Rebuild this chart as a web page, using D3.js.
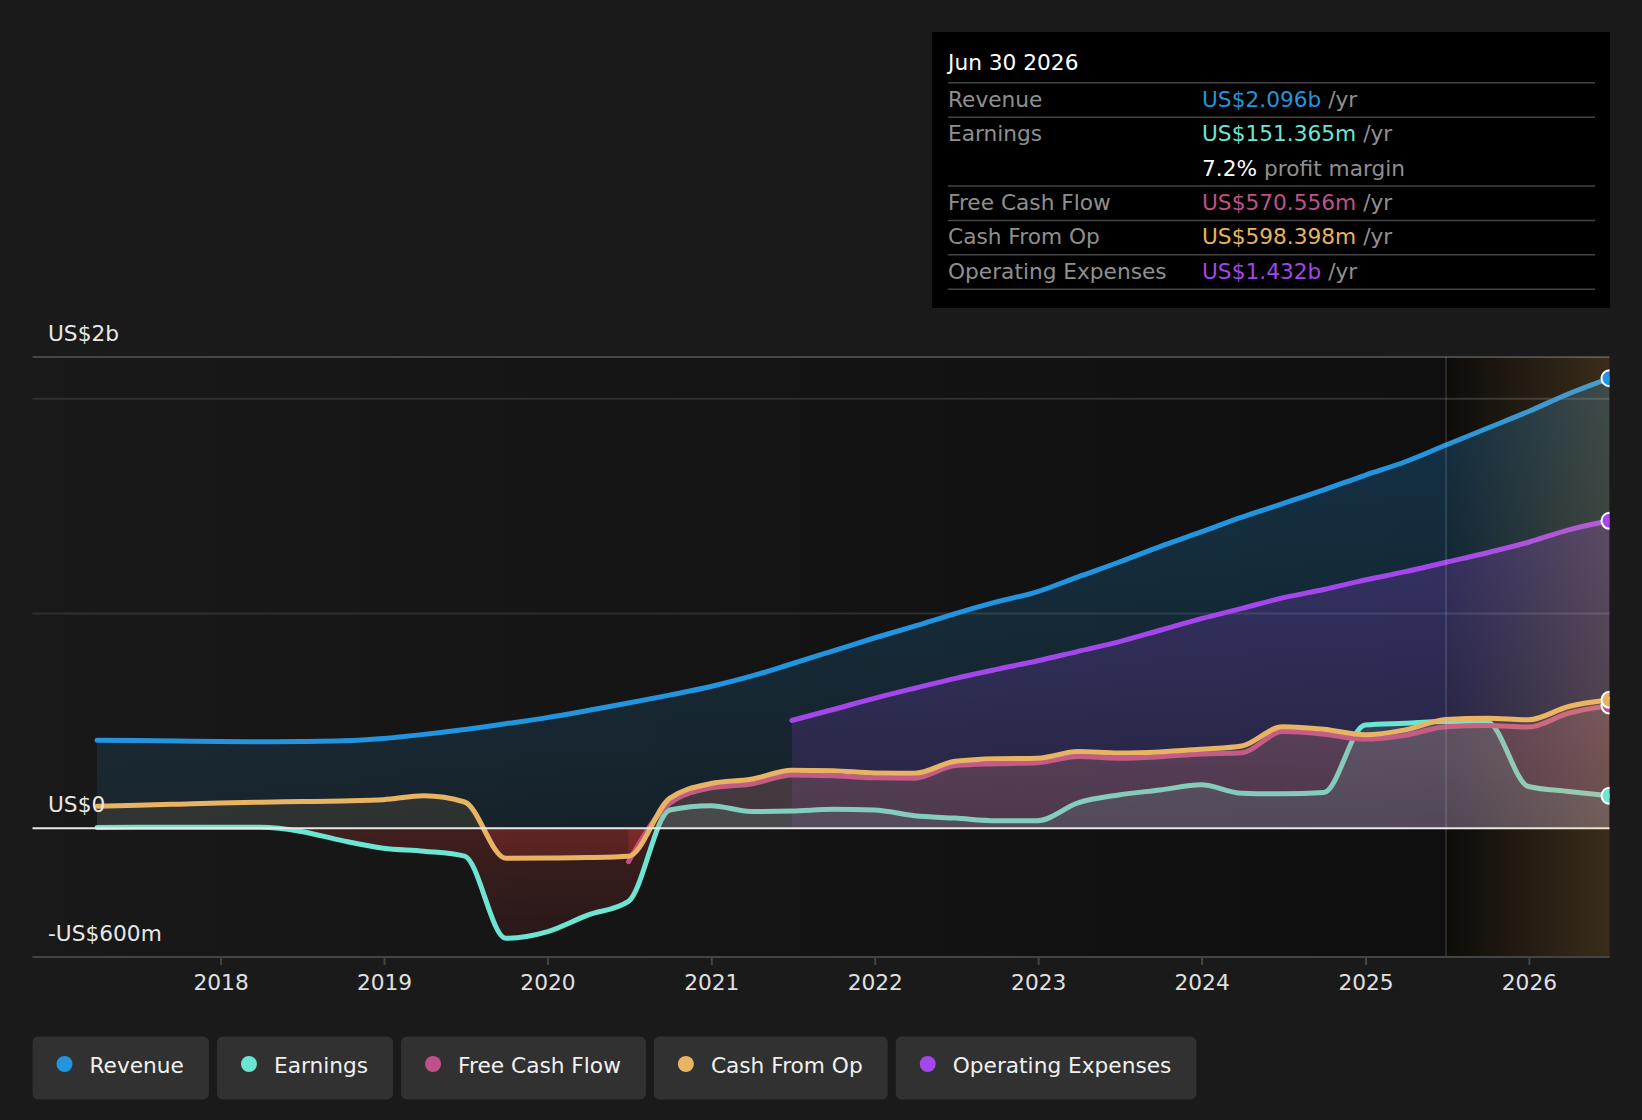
<!DOCTYPE html>
<html>
<head>
<meta charset="utf-8">
<script src="https://d3js.org/d3.v7.min.js"></script>
<style>
  body { margin: 0; background: #1a1a1a; }
  svg { display: block; font-family: "DejaVu Sans", sans-serif; }
</style>
</head>
<body>
<script>
// quarter ends, Mar 2017 .. Jun 2026 (values in US$ millions, trailing 12m)
var quarters = ["2017-03-31","2017-06-30","2017-09-30","2017-12-31","2018-03-31","2018-06-30","2018-09-30","2018-12-31",
  "2019-03-31","2019-06-30","2019-09-30","2019-12-31","2020-03-31","2020-06-30","2020-09-30","2020-12-31",
  "2021-03-31","2021-06-30","2021-09-30","2021-12-31","2022-03-31","2022-06-30","2022-09-30","2022-12-31",
  "2023-03-31","2023-06-30","2023-09-30","2023-12-31","2024-03-31","2024-06-30","2024-09-30","2024-12-31",
  "2025-03-31","2025-06-30","2025-09-30","2025-12-31","2026-03-31","2026-06-30"];

var revenue = [410, 408, 406, 404, 403, 404, 407, 418, 437, 460, 487, 515, 548, 583, 620, 660, 708, 766, 826, 886,
  941, 1000, 1054, 1102, 1171, 1239, 1312, 1380, 1449, 1512, 1576, 1644, 1707, 1785, 1863, 1941, 2024, 2096];

var earnings = [3, 4, 5, 5, 4, -15, -58, -93, -107, -130, -513, -483, -405, -341, 85, 105, 78, 80, 88, 85,
  58, 47, 35, 35, 118, 155, 178, 202, 163, 160, 166, 481, 489, 497, 495, 194, 171, 151];

var freeCashFlow = [null, null, null, null, null, null, null, null, null, null, null, null, null, -156, 116, 188, 206, 248, 244, 235,
  233, 292, 300, 305, 334, 326, 333, 346, 352, 450, 438, 415, 433, 473, 478, 471, 536, 571];

var cashFromOp = [102, 107, 112, 117, 121, 124, 127, 133, 151, 122, -140, -139, -137, -131, 139, 208, 228, 270, 268, 257,
  256, 312, 324, 326, 357, 350, 355, 368, 383, 473, 461, 435, 458, 506, 512, 505, 567, 598];

var opex = [null, null, null, null, null, null, null, null, null, null, null, null, null, null, null, null, null, 502, 553, 605,
  652, 698, 740, 780, 824, 868, 922, 976, 1024, 1073, 1112, 1156, 1195, 1239, 1283, 1332, 1390, 1432];

var forecastStart = "2025-06-30";
var gridValues = [2000, 1000];
var yLabelText = ["US$2b", "US$0", "-US$600m"];
var yMin = -600, yMax = 2195;

var tipDate = "Jun 30 2026";
var tipLabels = ["Revenue", "Earnings", "", "Free Cash Flow", "Cash From Op", "Operating Expenses"];
var tipValues = ["US$2.096b", "US$151.365m", "7.2%", "US$570.556m", "US$598.398m", "US$1.432b"];
var tipSuffix = [" /yr", " /yr", " profit margin", " /yr", " /yr", " /yr"];
var tipColors = ["#2394df", "#6ce5d3", "#ffffff", "#c0508a", "#e8b363", "#a347eb"];

var legendNames = ["Revenue", "Earnings", "Free Cash Flow", "Cash From Op", "Operating Expenses"];
var legendColors = ["#2394df", "#6ce5d3", "#c0508a", "#e8b363", "#a347eb"];

// ---------------------------------------------------------------
var W = 1642, H = 1120;
var plot = {left: 32.5, right: 1609.5, top: 357, bottom: 957};
var fs = 21.7;

var parse = d3.timeParse("%Y-%m-%d");
var dates = quarters.map(parse);

var x = d3.scaleTime().domain(d3.extent(dates)).range([97, plot.right]);
var y = d3.scaleLinear().domain([yMin, yMax]).range([plot.bottom, plot.top]);
var y0 = y(0);
var xf = x(parse(forecastStart));

var svg = d3.select("body").append("svg")
    .attr("width", W)
    .attr("height", H);

var defs = svg.append("defs");

function clip(id, x0, y0_, x1, y1) {
  defs.append("clipPath").attr("id", id).append("rect")
      .attr("x", x0).attr("y", y0_).attr("width", x1 - x0).attr("height", y1 - y0_);
}
clip("clip-plot", plot.left, plot.top, plot.right, plot.bottom);
clip("clip-pos", plot.left, plot.top, plot.right, y0);
clip("clip-neg", plot.left, y0, plot.right, plot.bottom);

function vGrad(id, color, y1, y2, o1, o2) {
  var g = defs.append("linearGradient").attr("id", id)
      .attr("gradientUnits", "userSpaceOnUse")
      .attr("x1", 0).attr("x2", 0).attr("y1", y1).attr("y2", y2);
  g.append("stop").attr("offset", 0).attr("stop-color", color).attr("stop-opacity", o1);
  g.append("stop").attr("offset", 1).attr("stop-color", color).attr("stop-opacity", o2);
}
vGrad("neg", "#e5403f", y0, plot.bottom, 0.2, 0.07);

// background darkening towards "now" and the forecast tint
var bg = defs.append("linearGradient").attr("id", "bgGrad")
    .attr("gradientUnits", "userSpaceOnUse").attr("x1", plot.left).attr("x2", xf).attr("y1", 0).attr("y2", 0);
bg.append("stop").attr("offset", 0).attr("stop-color", "#000").attr("stop-opacity", 0.05);
bg.append("stop").attr("offset", 1).attr("stop-color", "#000").attr("stop-opacity", 0.42);

var fc = defs.append("linearGradient").attr("id", "fcGrad")
    .attr("gradientUnits", "userSpaceOnUse").attr("x1", xf).attr("x2", plot.right).attr("y1", 0).attr("y2", 0);
fc.append("stop").attr("offset", 0).attr("stop-color", "#ffbe64").attr("stop-opacity", 0.02);
fc.append("stop").attr("offset", 1).attr("stop-color", "#ffbe64").attr("stop-opacity", 0.2);

svg.append("rect")
    .attr("x", plot.left).attr("y", plot.top)
    .attr("width", plot.right - plot.left).attr("height", plot.bottom - plot.top)
    .attr("fill", "url(#bgGrad)");
svg.append("rect")
    .attr("x", xf).attr("y", plot.top)
    .attr("width", plot.right - xf).attr("height", plot.bottom - plot.top)
    .attr("fill", "#000").attr("opacity", 0.42);

// grid lines
svg.selectAll(".grid")
    .data(gridValues)
  .enter().append("line")
    .attr("class", "grid")
    .attr("x1", plot.left).attr("x2", plot.right)
    .attr("y1", function(d) { return y(d); }).attr("y2", function(d) { return y(d); })
    .attr("stroke", "#2f2f2f").attr("stroke-width", 2);
svg.append("line")
    .attr("x1", plot.left).attr("x2", plot.right).attr("y1", plot.top).attr("y2", plot.top)
    .attr("stroke", "#474747").attr("stroke-width", 2);

// series
var series = [
  {key: "rev",  values: revenue,      color: "#2394df", pos: [0.28, 0.1]},
  {key: "earn", values: earnings,     color: "#6ce5d3", pos: [0.2, 0.12]},
  {key: "fcf",  values: freeCashFlow, color: "#c0508a", pos: [0.3, 0.14]},
  {key: "cfo",  values: cashFromOp,   color: "#e8b363", pos: [0.22, 0.1]},
  {key: "opex", values: opex,         color: "#a347eb", pos: [0.3, 0.12]}
];
series.forEach(function(s) {
  s.data = dates.map(function(d, i) { return {date: d, v: s.values[i]}; });
  vGrad("pos-" + s.key, s.color, plot.top, y0, s.pos[0], s.pos[1]);
});
var byKey = {};
series.forEach(function(s) { byKey[s.key] = s; });

var area = d3.area()
    .defined(function(d) { return d.v != null; })
    .x(function(d) { return x(d.date); })
    .y0(y0)
    .y1(function(d) { return y(d.v); })
    .curve(d3.curveMonotoneX);

var line = d3.line()
    .defined(function(d) { return d.v != null; })
    .x(function(d) { return x(d.date); })
    .y(function(d) { return y(d.v); })
    .curve(d3.curveMonotoneX);

var g = svg.append("g").attr("clip-path", "url(#clip-plot)");

function drawArea(s) {
  g.append("path").datum(s.data)
      .attr("clip-path", "url(#clip-pos)")
      .attr("fill", "url(#pos-" + s.key + ")")
      .attr("d", area);
  g.append("path").datum(s.data)
      .attr("clip-path", "url(#clip-neg)")
      .attr("fill", "url(#neg)")
      .attr("d", area);
}
function drawLine(s) {
  g.append("path").datum(s.data)
      .attr("fill", "none")
      .attr("stroke", s.color)
      .attr("stroke-width", 5)
      .attr("stroke-linejoin", "round")
      .attr("stroke-linecap", "round")
      .attr("d", line);
}

drawArea(byKey.rev);
drawArea(byKey.opex);
drawArea(byKey.earn);
drawLine(byKey.earn);
drawArea(byKey.fcf);
drawLine(byKey.fcf);
drawArea(byKey.cfo);
drawLine(byKey.cfo);

// zero line
svg.append("line")
    .attr("x1", plot.left).attr("x2", plot.right).attr("y1", y0).attr("y2", y0)
    .attr("stroke", "#e8e8e8").attr("stroke-width", 2);

drawLine(byKey.opex);
drawLine(byKey.rev);

// forecast region
svg.append("rect")
    .attr("x", xf).attr("y", plot.top)
    .attr("width", plot.right - xf).attr("height", plot.bottom - plot.top)
    .attr("fill", "url(#fcGrad)");
svg.append("line")
    .attr("x1", xf).attr("x2", xf).attr("y1", plot.top).attr("y2", plot.bottom)
    .attr("stroke", "#ffffff").attr("stroke-opacity", 0.12).attr("stroke-width", 2);

// end dots (cut by the plot edge)
var last = dates.length - 1;
svg.append("g").attr("clip-path", "url(#clip-plot)")
  .selectAll("circle")
    .data([byKey.earn, byKey.fcf, byKey.cfo, byKey.opex, byKey.rev])
  .enter().append("circle")
    .attr("cx", x(dates[last]))
    .attr("cy", function(s) { return y(s.values[last]); })
    .attr("r", 8)
    .attr("fill", function(s) { return s.color; })
    .attr("stroke", "#fff")
    .attr("stroke-width", 2);

// x axis
svg.append("line")
    .attr("x1", plot.left).attr("x2", plot.right).attr("y1", plot.bottom).attr("y2", plot.bottom)
    .attr("stroke", "#444").attr("stroke-width", 2);

var xAxis = svg.append("g")
    .attr("transform", "translate(0," + plot.bottom + ")")
    .call(d3.axisBottom(x)
      .ticks(d3.timeYear.every(1))
      .tickFormat(d3.timeFormat("%Y"))
      .tickSize(8)
      .tickPadding(10));
xAxis.select(".domain").remove();
xAxis.selectAll(".tick line").attr("stroke", "#444").attr("stroke-width", 2);
xAxis.selectAll(".tick text")
    .attr("fill", "#e0e0e0")
    .style("font-size", fs + "px")
    .style("font-family", "DejaVu Sans, sans-serif");

// y labels sit just above top, zero and bottom lines
var yLabelPos = [plot.top, y0, plot.bottom];
svg.selectAll(".ylab")
    .data(yLabelText)
  .enter().append("text")
    .attr("class", "ylab")
    .attr("x", 48)
    .attr("y", function(d, i) { return yLabelPos[i] - 16; })
    .attr("fill", "#e8e8e8")
    .style("font-size", fs + "px")
    .text(function(d) { return d; });

// tooltip box
var tip = svg.append("g");
tip.append("rect")
    .attr("x", 932).attr("y", 32).attr("width", 678).attr("height", 276)
    .attr("fill", "#000");
tip.append("text")
    .attr("x", 948).attr("y", 70)
    .attr("fill", "#fff")
    .style("font-size", fs + "px")
    .text(tipDate);

var sepY = [82.7];
tipLabels.forEach(function(label, i) {
  var by = 106.7 + i * 34.4;
  tip.append("text")
      .attr("x", 948).attr("y", by)
      .attr("fill", "#8f8f8f")
      .style("font-size", fs + "px")
      .text(label);
  var t = tip.append("text")
      .attr("x", 1202).attr("y", by)
      .style("font-size", fs + "px");
  t.append("tspan").attr("fill", tipColors[i]).text(tipValues[i]);
  t.append("tspan").attr("fill", "#8f8f8f").text(tipSuffix[i]);
  if (i != 1) sepY.push(by + 10.5);
});
tip.selectAll(".sep")
    .data(sepY)
  .enter().append("line")
    .attr("x1", 948).attr("x2", 1595)
    .attr("y1", function(d) { return d; }).attr("y2", function(d) { return d; })
    .attr("stroke", "#444").attr("stroke-width", 1.5);

// legend
var lx = 32.5;
legendNames.forEach(function(name, i) {
  var item = svg.append("g");
  var box = item.append("rect")
      .attr("x", lx).attr("y", 1036.5).attr("height", 63).attr("rx", 6)
      .attr("fill", "#313131");
  item.append("circle")
      .attr("cx", lx + 32).attr("cy", 1064).attr("r", 8)
      .attr("fill", legendColors[i]);
  var t = item.append("text")
      .attr("x", lx + 57).attr("y", 1072.7)
      .attr("fill", "#f0f0f0")
      .style("font-size", fs + "px")
      .text(name);
  var w = 57 + t.node().getComputedTextLength() + 25;
  box.attr("width", w);
  lx += w + 8;
});
</script>
</body>
</html>
